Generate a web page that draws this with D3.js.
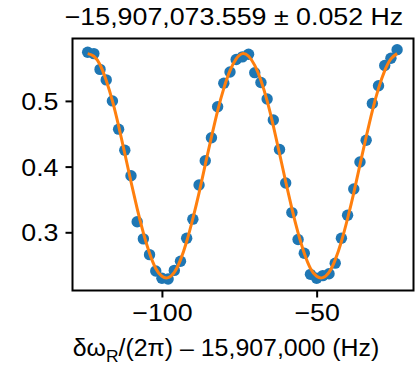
<!DOCTYPE html>
<html>
<head>
<meta charset="utf-8">
<script src="https://cdn.jsdelivr.net/npm/d3@7"></script>
<style>
  body { margin: 0; background: #fff; }
  text { font-family: "Liberation Sans", Arial, sans-serif; fill: #000; }
</style>
</head>
<body>
<div id="viewport"></div>
<script>
// measured points (detuning offset in Hz, population)
var detuning = [-124, -122, -120, -118, -116, -114, -112, -110, -108, -106,
    -104, -102, -100, -98, -96, -94, -92, -90, -88, -86,
    -84, -82, -80, -78, -76, -74, -72, -70, -68, -66,
    -64, -62, -60, -58, -56, -54, -52, -50, -48, -46,
    -44, -42, -40, -38, -36, -34, -32, -30, -28, -26, -24];
var population = [0.574, 0.572, 0.548, 0.532, 0.500, 0.457, 0.425, 0.386, 0.316, 0.290,
    0.266, 0.241, 0.230, 0.229, 0.242, 0.256, 0.291, 0.320, 0.372, 0.409,
    0.444, 0.491, 0.527, 0.544, 0.563, 0.567, 0.571, 0.543, 0.528, 0.503,
    0.471, 0.426, 0.375, 0.330, 0.289, 0.268, 0.236, 0.230, 0.234, 0.237,
    0.253, 0.291, 0.326, 0.366, 0.407, 0.440, 0.496, 0.523, 0.554, 0.565, 0.578];
var fitValues = [0.572, 0.568, 0.555, 0.531, 0.500, 0.462, 0.420, 0.377, 0.336, 0.299,
    0.268, 0.245, 0.233, 0.231, 0.239, 0.258, 0.286, 0.321, 0.360, 0.403,
    0.445, 0.485, 0.519, 0.546, 0.564, 0.572, 0.568, 0.554, 0.531, 0.500,
    0.462, 0.420, 0.377, 0.336, 0.299, 0.268, 0.245, 0.233, 0.231, 0.239,
    0.258, 0.286, 0.321, 0.360, 0.403, 0.445, 0.485, 0.519, 0.546, 0.564, 0.572];

var xTicks = [-100, -50];
var xTickLabels = ["\u2212100", "\u221250"];
var yTicks = [0.3, 0.4, 0.5];
var yTickLabels = ["0.3", "0.4", "0.5"];

var titleText = "\u221215,907,073.559 \u00b1 0.052 Hz";

var W = 420, H = 367;
var margin = {top: 38.5, right: 6.5, bottom: 76.5, left: 72.5},
    width = W - margin.left - margin.right,
    height = H - margin.top - margin.bottom;
var fontSize = 23.5, stretch = 1.14;

var x = d3.scaleLinear().domain([-128.9, -18.7]).range([0, width]);
var y = d3.scaleLinear().domain([0.2114, 0.595]).range([height, 0]);

var svg = d3.select("#viewport").append("svg")
    .attr("width", W)
    .attr("height", H);

var g = svg.append("g")
    .attr("transform", "translate(" + margin.left + "," + margin.top + ")");

var points = detuning.map(function(d, i) { return {x: d, y: population[i]}; });
var fit = detuning.map(function(d, i) { return {x: d, y: fitValues[i]}; });

// data points
g.selectAll("circle.pt")
    .data(points)
    .enter().append("circle")
    .attr("class", "pt")
    .attr("cx", function(d) { return x(d.x); })
    .attr("cy", function(d) { return y(d.y); })
    .attr("r", 5.7)
    .attr("fill", "#1f77b4");

// fit curve
var line = d3.line()
    .x(function(d) { return x(d.x); })
    .y(function(d) { return y(d.y); })
    .curve(d3.curveNatural);

g.append("path")
    .datum(fit)
    .attr("d", line)
    .attr("fill", "none")
    .attr("stroke", "#ff7f0e")
    .attr("stroke-width", 3)
    .attr("stroke-linecap", "butt");

// axes
var xAxis = g.append("g")
    .attr("transform", "translate(0," + height + ")")
    .call(d3.axisBottom(x).tickValues(xTicks)
        .tickFormat(function(d, i) { return xTickLabels[i]; })
        .tickSize(7).tickPadding(5));
var yAxis = g.append("g")
    .call(d3.axisLeft(y).tickValues(yTicks)
        .tickFormat(function(d, i) { return yTickLabels[i]; })
        .tickSize(7).tickPadding(7));

[xAxis, yAxis].forEach(function(a) {
    a.select(".domain").remove();
    a.selectAll(".tick line").attr("stroke", "#000").attr("stroke-width", 2);
    a.selectAll(".tick text")
        .attr("font-family", "Liberation Sans, Arial, sans-serif")
        .attr("font-size", fontSize)
        .attr("fill", "#000");
});
xAxis.selectAll(".tick text")
    .attr("dy", null).attr("y", 30.5)
    .attr("transform", "scale(" + stretch + ",1)");
yAxis.selectAll(".tick text")
    .attr("dy", null).attr("y", 8.4)
    .attr("x", -14 / stretch)
    .attr("transform", "scale(" + stretch + ",1)");

// frame
g.append("rect")
    .attr("width", width)
    .attr("height", height)
    .attr("fill", "none")
    .attr("stroke", "#000")
    .attr("stroke-width", 2);

// title
svg.append("g")
    .attr("transform", "translate(234,25) scale(" + stretch + ",1)")
    .append("text")
    .attr("text-anchor", "middle")
    .attr("font-size", fontSize)
    .text(titleText);

// x label with subscript
var xl = svg.append("g")
    .attr("transform", "translate(226,356) scale(1.06,1)")
    .append("text")
    .attr("text-anchor", "middle")
    .attr("font-size", fontSize);
xl.append("tspan").text("\u03b4\u03c9");
xl.append("tspan").attr("font-size", fontSize * 0.7).attr("dy", 6).text("R");
xl.append("tspan").attr("dy", -6).text("/(2\u03c0) \u2013 15,907,000 (Hz)");
</script>
</body>
</html>
